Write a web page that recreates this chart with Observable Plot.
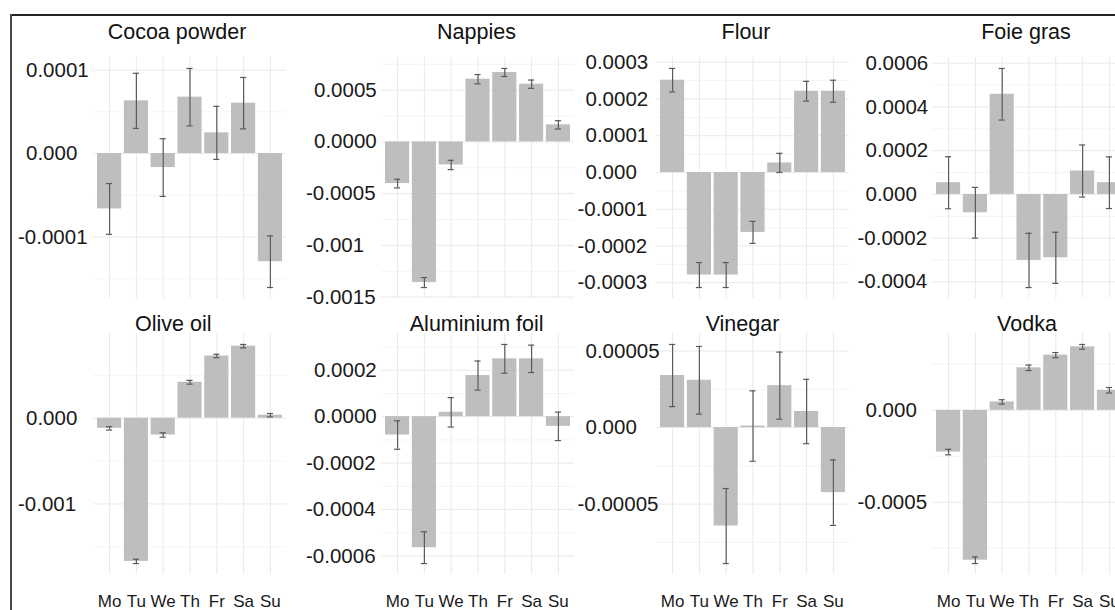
<!DOCTYPE html>
<html>
<head>
<meta charset="utf-8">
<script src="https://cdn.jsdelivr.net/npm/d3@7"></script>
<script src="https://cdn.jsdelivr.net/npm/@observablehq/plot@0.6"></script>
<style>
  html, body { margin: 0; padding: 0; overflow: hidden; background: #fff; }
  #chart { position: relative; width: 1115px; height: 610px; background: #fff; overflow: hidden;
           font-family: "Liberation Sans", Arial, Helvetica, sans-serif; }
  .title { position: absolute; font-size: 21.5px; line-height: 1; color: #111; white-space: nowrap;
           transform: translateX(-50%); }
  .hline { position: absolute; left: 10px; top: 14px; width: 1105px; height: 1.5px; background: #222; }
  .vline { position: absolute; left: 10px; top: 14px; width: 2px; height: 596px; background: #4a4a4a; }
</style>
</head>
<body>
<div id="chart"><div class="hline"></div><div class="vline"></div></div>
<script>
// ---- data ----
const days = ["Mo", "Tu", "We", "Th", "Fr", "Sa", "Su"];
const products = ["Cocoa powder", "Nappies", "Flour", "Foie gras", "Olive oil", "Aluminium foil", "Vinegar", "Vodka"];

const cocoaValues = [-0.0000664, 0.0000632, -0.0000168, 0.0000676, 0.0000248, 0.0000604, -0.0001296];
const cocoaErrors = [0.0000304, 0.000033, 0.0000346, 0.0000344, 0.0000318, 0.0000308, 0.000031];
const cocoaTicks = [0.0001, 0, -0.0001];
const cocoaTickLabels = ["0.0001", "0.000", "-0.0001"];

const nappiesValues = [-0.000403, -0.00136, -0.000223, 0.000606, 0.000671, 0.000558, 0.000165];
const nappiesErrors = [0.000042, 0.000048, 0.000045, 0.000045, 0.000039, 0.00004, 0.00004];
const nappiesTicks = [0.0005, 0, -0.0005, -0.001, -0.0015];
const nappiesTickLabels = ["0.0005", "0.0000", "-0.0005", "-0.001", "-0.0015"];

const flourValues = [0.000251, -0.000279, -0.000279, -0.000163, 0.000026, 0.000221, 0.000221];
const flourErrors = [0.000032, 0.000034, 0.000034, 0.00003, 0.000026, 0.000027, 0.00003];
const flourTicks = [0.0003, 0.0002, 0.0001, 0, -0.0001, -0.0002, -0.0003];
const flourTickLabels = ["0.0003", "0.0002", "0.0001", "0.000", "-0.0001", "-0.0002", "-0.0003"];

const foieValues = [0.0000534, -0.000084, 0.000458, -0.000302, -0.00029, 0.000107, 0.0000534];
const foieErrors = [0.000119, 0.000116, 0.000118, 0.000124, 0.000117, 0.000119, 0.000118];
const foieTicks = [0.0006, 0.0004, 0.0002, 0, -0.0002, -0.0004];
const foieTickLabels = ["0.0006", "0.0004", "0.0002", "0.000", "-0.0002", "-0.0004"];

const oliveValues = [-0.000118, -0.00167, -0.000196, 0.000419, 0.000725, 0.00084, 0.000035];
const oliveErrors = [0.00002, 0.000025, 0.000025, 0.000022, 0.00002, 0.00002, 0.00002];
const oliveTicks = [0, -0.001];
const oliveTickLabels = ["0.000", "-0.001"];

const foilValues = [-0.0000791, -0.000564, 0.0000187, 0.000177, 0.000249, 0.000249, -0.0000417];
const foilErrors = [0.0000612, 0.0000683, 0.0000633, 0.0000626, 0.0000619, 0.000059, 0.0000612];
const foilTicks = [0.0002, 0, -0.0002, -0.0004, -0.0006];
const foilTickLabels = ["0.0002", "0.0000", "-0.0002", "-0.0004", "-0.0006"];

const vinegarValues = [0.000034, 0.0000309, -0.0000643, 0.000001, 0.0000274, 0.0000105, -0.0000425];
const vinegarErrors = [0.0000203, 0.0000221, 0.0000245, 0.000023, 0.0000219, 0.000021, 0.0000214];
const vinegarTicks = [0.00005, 0, -0.00005];
const vinegarTickLabels = ["0.00005", "0.000", "-0.00005"];

const vodkaValues = [-0.000227, -0.000815, 0.0000455, 0.000231, 0.0003, 0.000345, 0.000109];
const vodkaErrors = [0.000015, 0.000018, 0.000012, 0.000015, 0.000014, 0.000013, 0.000015];
const vodkaTicks = [0, -0.0005];
const vodkaTickLabels = ["0.000", "-0.0005"];

const panelValues = [cocoaValues, nappiesValues, flourValues, foieValues, oliveValues, foilValues, vinegarValues, vodkaValues];
const panelErrors = [cocoaErrors, nappiesErrors, flourErrors, foieErrors, oliveErrors, foilErrors, vinegarErrors, vodkaErrors];
const panelTicks = [cocoaTicks, nappiesTicks, flourTicks, foieTicks, oliveTicks, foilTicks, vinegarTicks, vodkaTicks];
const panelTickLabels = [cocoaTickLabels, nappiesTickLabels, flourTickLabels, foieTickLabels, oliveTickLabels, foilTickLabels, vinegarTickLabels, vodkaTickLabels];

// ---- layout ----
const W = 193, H = 241, ML = 80;
const colPlotLeft = [92.5, 380.5, 655.5, 932];
const colLabelLeft = [25, 313, 584.5, 865];
const rowTop = [56.5, 333];
const titleX = [177, 476.5, 746, 1026, 173.3, 476.7, 742.5, 1027];
const titleTop = [21.7, 313.7];

const chart = document.getElementById("chart");

function panel(i) {
  const col = i % 4, row = Math.floor(i / 4);
  const values = panelValues[i], errors = panelErrors[i];
  const ticks = panelTicks[i], labels = panelTickLabels[i];
  const data = days.map((d, j) => ({day: d, value: values[j], lo: values[j] - errors[j], hi: values[j] + errors[j]}));
  const lo = Math.min(0, ...data.map(d => d.lo));
  const hi = Math.max(0, ...data.map(d => d.hi));
  const pad = (hi - lo) * 0.05;
  const domain = [lo - pad, hi + pad];
  const step = Math.abs(ticks[0] - ticks[1]);
  const minor = [];
  for (let k = Math.floor(domain[0] / step) - 1; k <= Math.ceil(domain[1] / step); k++) {
    const v = (k + 0.5) * step;
    if (v > domain[0] && v < domain[1]) minor.push(v);
  }
  const tickRows = ticks.map((t, k) => ({t, label: labels[k]}));
  const dxBase = colLabelLeft[col] - colPlotLeft[col];
  const errStroke = "#5a5a5a";
  const marks = [
    Plot.ruleY(minor, {stroke: "#f1f1f1", strokeWidth: 0.8}),
    Plot.ruleX(days, {stroke: "#e9e9e9", strokeWidth: 1}),
    Plot.ruleY(ticks, {stroke: "#e9e9e9", strokeWidth: 1}),
    Plot.barY(data, {x: "day", y: "value", fill: "#bebebe"}),
    Plot.ruleX(data, {x: "day", y1: "lo", y2: "hi", stroke: errStroke, strokeWidth: 1.2}),
    Plot.tickY(data, {x: "day", y: "lo", stroke: errStroke, strokeWidth: 1.2, insetLeft: 9, insetRight: 9}),
    Plot.tickY(data, {x: "day", y: "hi", stroke: errStroke, strokeWidth: 1.2, insetLeft: 9, insetRight: 9}),
    Plot.text(tickRows.filter(d => d.t >= 0), {y: "t", text: "label", frameAnchor: "left", textAnchor: "start",
      dx: dxBase, fontSize: 20.5, fill: "#1a1a1a"}),
    Plot.text(tickRows.filter(d => d.t < 0), {y: "t", text: "label", frameAnchor: "left", textAnchor: "start",
      dx: dxBase - 8, fontSize: 20.5, fill: "#1a1a1a"})
  ];
  if (row === 1) marks.push(Plot.axisX({tickSize: 0, tickPadding: 20.5, fontSize: 17, fill: "#1a1a1a", label: null}));
  const mb = row === 1 ? 40 : 0;
  const xScale = {type: "band", domain: days, paddingInner: 0.1, paddingOuter: 0.15, align: 0.5, round: false, label: null};
  if (row === 0) xScale.axis = null;
  const svg = Plot.plot({
    width: ML + W,
    height: H + mb,
    marginLeft: ML, marginRight: 0, marginTop: 0, marginBottom: mb,
    x: xScale,
    y: {type: "linear", domain, axis: null, label: null},
    style: {fontFamily: '"Liberation Sans", Arial, Helvetica, sans-serif', fontSize: "17px", background: "transparent", overflow: "visible", color: "#1a1a1a"},
    marks
  });
  svg.style.position = "absolute";
  svg.style.left = (colPlotLeft[col] - ML) + "px";
  svg.style.top = rowTop[row] + "px";
  chart.appendChild(svg);

  const t = document.createElement("div");
  t.className = "title";
  t.textContent = products[i];
  t.style.left = titleX[i] + "px";
  t.style.top = titleTop[row] + "px";
  chart.appendChild(t);
}

for (let i = 0; i < products.length; i++) panel(i);
</script>
</body>
</html>
